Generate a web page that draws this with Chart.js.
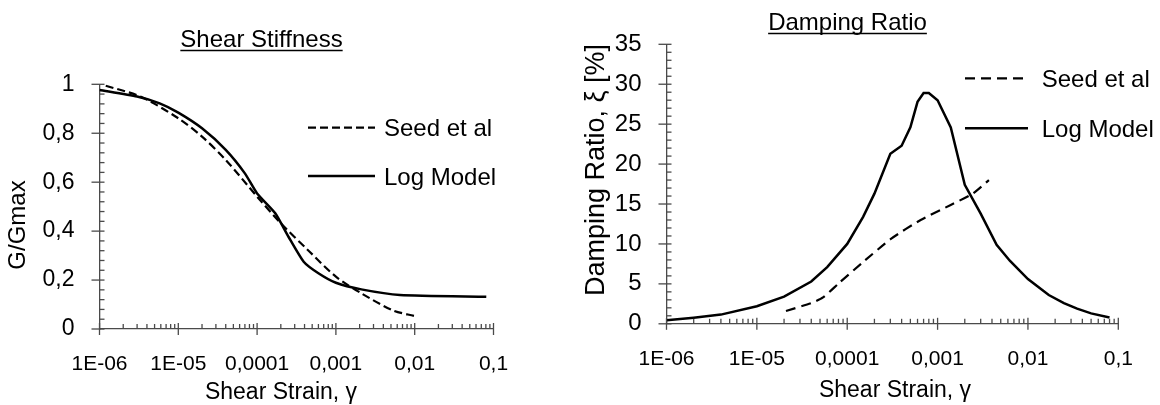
<!DOCTYPE html>
<html>
<head>
<meta charset="utf-8">
<script src="https://cdn.jsdelivr.net/npm/chart.js@4"></script>
<style>
  html, body { margin: 0; padding: 0; background: #fff; }
  .wrap { display: flex; width: 1160px; height: 405px; }
  .box { width: 580px; height: 405px; }
</style>
</head>
<body>
<div class="wrap">
  <div class="box"><canvas id="stiffness" width="580" height="405"></canvas></div>
  <div class="box"><canvas id="damping" width="580" height="405"></canvas></div>
</div>
<script>
// --- data ---
const strainLabels = ['1E-06', '1E-05', '0,0001', '0,001', '0,01', '0,1'];
const gTickLabels = ['0', '0,2', '0,4', '0,6', '0,8', '1'];
const dTickLabels = ['0', '5', '10', '15', '20', '25', '30', '35'];
const seriesNames = ['Seed et al', 'Log Model'];

// shear stiffness G/Gmax
const gSeedStrain = [1.2e-6, 3.3e-6, 1e-5, 2e-5, 4e-5, 1e-4, 2e-4, 4.4e-4, 1e-3, 2.1e-3, 5.3e-3, 1e-2];
const gSeed = [0.994, 0.95, 0.861, 0.786, 0.691, 0.541, 0.432, 0.323, 0.214, 0.146, 0.076, 0.053];
const gLogStrain = [1e-6, 3e-6, 5.8e-6, 1e-5, 2e-5, 4e-5, 7e-5, 1e-4, 1.7e-4, 2.5e-4, 3.9e-4, 6e-4, 1e-3, 2.1e-3, 6.5e-3, 0.081];
const gLog = [0.977, 0.95, 0.922, 0.884, 0.82, 0.732, 0.636, 0.554, 0.473, 0.377, 0.275, 0.228, 0.189, 0.162, 0.139, 0.132];

// damping ratio [%]
const dSeedStrain = [2.1e-5, 4e-5, 5.4e-5, 8.1e-5, 1.45e-4, 3.1e-4, 6.5e-4, 1.38e-3, 2.45e-3, 3.7e-3];
const dSeed = [1.6, 2.6, 3.3, 5.1, 7.6, 10.7, 13.0, 14.85, 16.3, 18.0];
const dLogStrain = [1e-6, 2e-6, 4e-6, 1e-5, 2e-5, 4e-5, 6e-5, 1e-4, 1.5e-4, 2e-4, 3e-4, 4e-4, 5e-4, 6e-4, 7e-4, 8e-4, 1e-3,
  1.4e-3, 2e-3, 3e-3, 4.5e-3, 6.3e-3, 1e-2, 1.7e-2, 2.5e-2, 3.5e-2, 5e-2, 0.08];
const dLog = [0.45, 0.77, 1.15, 2.2, 3.4, 5.3, 7.1, 10.0, 13.4, 16.3, 21.3, 22.3, 24.6, 27.8, 28.9, 28.9, 28.0,
  24.6, 17.4, 13.8, 9.9, 7.9, 5.6, 3.6, 2.6, 1.9, 1.3, 0.8];

const FONT = 'Arial, "Liberation Sans", sans-serif';
const AXIS = '#4a4a4a';

function isDecade(v) {
  const l = Math.log10(v);
  return Math.abs(l - Math.round(l)) < 1e-9;
}

function points(xs, ys) {
  return xs.map((x, i) => ({ x: x, y: ys[i] }));
}

// log axis ticks: 1..9 in every decade from 1E-06 to 0,1
function strainTicks(scale) {
  const ticks = [];
  for (let e = -6; e < -1; e++) {
    for (let m = 1; m < 10; m++) ticks.push({ value: m * Math.pow(10, e) });
  }
  ticks.push({ value: 0.1 });
  scale.ticks = ticks;
}

function decor(cfg) {
  return {
    id: 'decor',
    afterDraw(chart) {
      const c = chart.ctx;
      const xs = chart.scales.x, ys = chart.scales.y;
      c.save();
      c.strokeStyle = AXIS;
      c.lineWidth = 1.3;
      xs.ticks.forEach(t => {
        const px = xs.getPixelForValue(t.value);
        const major = isDecade(t.value);
        c.beginPath();
        c.moveTo(px, xs.top - (major ? 6 : 5));
        c.lineTo(px, xs.top + (major ? 6 : 0));
        c.stroke();
      });
      ys.ticks.forEach((t, i) => {
        const py = ys.getPixelForValue(t.value);
        const major = i % 5 === 0;
        c.beginPath();
        c.moveTo(ys.right - (major ? 8 : 0), py);
        c.lineTo(ys.right + 5, py);
        c.stroke();
      });

      c.fillStyle = '#000';
      c.strokeStyle = '#000';
      // underlined title
      const t = cfg.title;
      c.font = t.size + 'px ' + FONT;
      c.textAlign = 'center';
      c.textBaseline = 'alphabetic';
      c.fillText(t.text, t.x, t.y);
      const w = c.measureText(t.text).width;
      c.lineWidth = 1.6;
      c.beginPath();
      c.moveTo(t.x - w / 2, t.y + 4);
      c.lineTo(t.x + w / 2, t.y + 4);
      c.stroke();

      // axis titles
      const xt = cfg.xTitle;
      c.font = xt.size + 'px ' + FONT;
      c.fillText(xt.text, xt.x, xt.y);
      const yt = cfg.yTitle;
      c.save();
      c.translate(yt.x, yt.y);
      c.rotate(-Math.PI / 2);
      c.font = yt.size + 'px ' + FONT;
      c.textBaseline = 'middle';
      c.fillText(yt.text, 0, 0);
      c.restore();

      // legend
      const lg = cfg.legend;
      c.font = lg.size + 'px ' + FONT;
      c.textAlign = 'left';
      c.textBaseline = 'alphabetic';
      chart.data.datasets.forEach((ds, i) => {
        const ly = lg.y[i];
        c.setLineDash(ds.borderDash || []);
        c.lineWidth = ds.borderWidth;
        c.beginPath();
        c.moveTo(lg.x1, ly);
        c.lineTo(lg.x2, ly);
        c.stroke();
        c.setLineDash([]);
        c.fillText(ds.label, lg.tx, ly + 8.5);
      });
      c.restore();
    }
  };
}

function makeChart(id, o) {
  return new Chart(document.getElementById(id), {
    type: 'line',
    data: {
      datasets: [
        { label: seriesNames[0], data: points(o.seedX, o.seedY), borderColor: '#000',
          borderWidth: 2.2, borderDash: o.dash, pointRadius: 0, tension: o.seedTension, fill: false },
        { label: seriesNames[1], data: points(o.logX, o.logY), borderColor: '#000',
          borderWidth: 2.5, pointRadius: 0, tension: o.logTension, fill: false }
      ]
    },
    options: {
      responsive: false,
      animation: false,
      events: [],
      layout: { padding: { left: 0, top: o.area.top, right: 580 - o.area.right, bottom: 0 } },
      plugins: { legend: { display: false }, title: { display: false }, tooltip: { enabled: false } },
      scales: {
        x: {
          type: 'logarithmic',
          min: 1e-6,
          max: 0.1,
          afterBuildTicks: strainTicks,
          afterFit: s => { s.height = 405 - o.area.bottom; },
          grid: { display: false, drawTicks: false },
          border: { display: true, color: AXIS, width: 1.3 },
          ticks: {
            autoSkip: false, maxRotation: 0, minRotation: 0, padding: 23, color: '#000',
            font: { family: FONT, size: 21 },
            callback: v => isDecade(v) ? strainLabels[Math.round(Math.log10(v)) + 6] : ''
          }
        },
        y: {
          type: 'linear',
          min: 0,
          max: o.yMax,
          afterBuildTicks: s => {
            const n = o.yLabels.length - 1;
            const ticks = [];
            for (let i = 0; i <= n * 5; i++) ticks.push({ value: i * o.yMax / (n * 5) });
            s.ticks = ticks;
          },
          afterFit: s => { s.width = o.area.left; },
          grid: { display: false, drawTicks: false },
          border: { display: true, color: AXIS, width: 1.3 },
          ticks: {
            autoSkip: false, padding: 25, color: '#000',
            font: { family: FONT, size: o.yTickSize },
            callback: (v, i) => i % 5 === 0 ? o.yLabels[i / 5] : ''
          }
        }
      }
    },
    plugins: [decor(o.decor)]
  });
}

makeChart('stiffness', {
  seedX: gSeedStrain, seedY: gSeed, logX: gLogStrain, logY: gLog,
  dash: [8, 4], seedTension: 0.3, logTension: 0.2,
  yMax: 1, yLabels: gTickLabels, yTickSize: 23,
  area: { left: 99.5, right: 493.5, top: 84.3, bottom: 329 },
  decor: {
    title: { text: 'Shear Stiffness', x: 261.5, y: 46.5, size: 24 },
    xTitle: { text: 'Shear Strain, γ', x: 281, y: 399, size: 23 },
    yTitle: { text: 'G/Gmax', x: 18, y: 225, size: 24 },
    legend: { x1: 308, x2: 375, tx: 384, y: [127.7, 176], size: 24 }
  }
});

makeChart('damping', {
  seedX: dSeedStrain, seedY: dSeed, logX: dLogStrain, logY: dLog,
  dash: [10, 6], seedTension: 0.2, logTension: 0,
  yMax: 35, yLabels: dTickLabels, yTickSize: 24,
  area: { left: 86.5, right: 538.3, top: 44.3, bottom: 323.8 },
  decor: {
    title: { text: 'Damping Ratio', x: 267.5, y: 29.5, size: 24 },
    xTitle: { text: 'Shear Strain, γ', x: 315, y: 397, size: 23 },
    yTitle: { text: 'Damping Ratio, ξ [%]', x: 17, y: 170, size: 27 },
    legend: { x1: 385, x2: 448, tx: 461.7, y: [78.3, 128.3], size: 24 }
  }
});
</script>
</body>
</html>
